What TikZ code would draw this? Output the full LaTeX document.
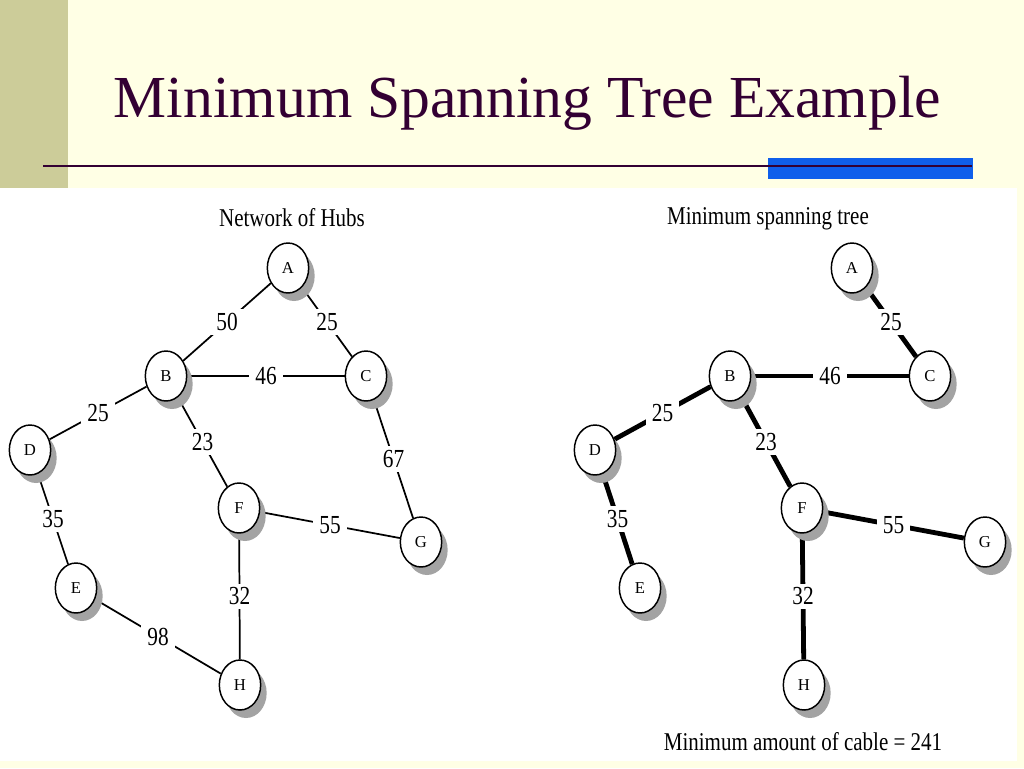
\documentclass[tikz,border=0pt]{standalone}
\usepackage{fontspec}
\setmainfont{Liberation Serif}
\newfontfamily\condfont[FakeStretch=0.82]{Liberation Serif}
\usetikzlibrary{shapes.geometric,shadows}
\pgfdeclarelayer{background}
\pgfsetlayers{background,main}
\definecolor{cream}{RGB}{255,255,229}
\definecolor{olive}{RGB}{204,204,153}
\definecolor{titlepurple}{RGB}{51,0,51}
\definecolor{barblue}{RGB}{15,95,235}
\begin{document}
\begin{tikzpicture}[x=0.75pt,y=-0.75pt,
  hub/.style={ellipse, draw, line width=1.1pt, fill=white, inner sep=0pt,
    minimum width=31pt, minimum height=37.5pt,
    font=\fontsize{12.5}{14}\selectfont,
    general shadow={fill=black!36, shadow xshift=4.5pt, shadow yshift=-6pt}},
  thinedge/.style={line width=1.3pt},
  thickedge/.style={line width=3.6pt},
  lbl/.style={fill=white, inner xsep=4.5pt, inner ysep=3pt, font=\condfont\fontsize{19.5}{21}\selectfont},
  caption/.style={anchor=base, font=\condfont\fontsize{19.2}{21}\selectfont}
]
\useasboundingbox (0,0) rectangle (1024,768);
\begin{pgfonlayer}{background}
\fill[cream] (0,0) rectangle (1024,768);
\fill[olive] (0,0) rectangle (68,188);
\fill[white] (0,188) rectangle (1017,761);
\fill[barblue] (768,158) rectangle (973,179);
\draw[titlepurple, line width=1.5pt] (43,166) -- (972,166);
\end{pgfonlayer}

\node[anchor=base, text=titlepurple, font=\fontsize{44.7}{50}\selectfont] (title) at (527.5,117) {Minimum Spanning Tree Example};

% left graph
\node[caption] (capL) at (292,226) {Network of Hubs};
\node[hub] (lA) at (288,268) {A};
\node[hub] (lB) at (166,376) {B};
\node[hub] (lC) at (366,376) {C};
\node[hub] (lD) at (30,450) {D};
\node[hub] (lE) at (76,588) {E};
\node[hub] (lF) at (239,508) {F};
\node[hub] (lG) at (421,542) {G};
\node[hub] (lH) at (240,685) {H};

% right graph
\node[caption] (capR) at (768,224) {Minimum spanning tree};
\node[hub] (rA) at (852,268) {A};
\node[hub] (rB) at (730,376) {B};
\node[hub] (rC) at (930,376) {C};
\node[hub] (rD) at (595,450) {D};
\node[hub] (rE) at (640,588) {E};
\node[hub] (rF) at (802,508) {F};
\node[hub] (rG) at (985,542) {G};
\node[hub] (rH) at (804,685) {H};
\node[caption] (total) at (803,750) {Minimum amount of cable = 241};

\begin{pgfonlayer}{background}
\draw[thinedge] (lA) -- node[lbl]{50} (lB);
\draw[thinedge] (lA) -- node[lbl]{25} (lC);
\draw[thinedge] (lB) -- node[lbl]{46} (lC);
\draw[thinedge] (lB) -- node[lbl]{25} (lD);
\draw[thinedge] (lB) -- node[lbl]{23} (lF);
\draw[thinedge] (lC) -- node[lbl]{67} (lG);
\draw[thinedge] (lD) -- node[lbl]{35} (lE);
\draw[thinedge] (lF) -- node[lbl]{55} (lG);
\draw[thinedge] (lF) -- node[lbl]{32} (lH);
\draw[thinedge] (lE) -- node[lbl]{98} (lH);

\draw[thickedge] (rA) -- node[lbl]{25} (rC);
\draw[thickedge] (rB) -- node[lbl]{46} (rC);
\draw[thickedge] (rB) -- node[lbl]{25} (rD);
\draw[thickedge] (rB) -- node[lbl]{23} (rF);
\draw[thickedge] (rD) -- node[lbl]{35} (rE);
\draw[thickedge] (rF) -- node[lbl]{55} (rG);
\draw[thickedge] (rF) -- node[lbl]{32} (rH);
\end{pgfonlayer}
\end{tikzpicture}
\end{document}
